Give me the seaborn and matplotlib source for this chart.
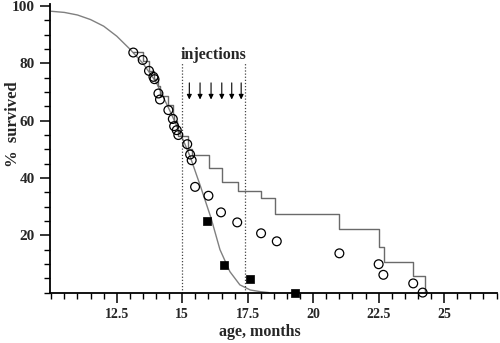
import matplotlib
matplotlib.use("Agg")
import matplotlib.pyplot as plt
import seaborn as sns
from matplotlib.ticker import MultipleLocator

# fitted survival curve
curve_x = [10.0, 10.5, 11.0, 11.5, 12.0, 12.5, 13.0, 13.5, 14.0, 14.5, 15.0, 15.3,
           15.7, 16.1, 16.44, 16.82, 17.2, 17.6, 18.0, 18.3]
curve_y = [98.2, 97.8, 96.9, 95.3, 93.0, 89.5, 85.0, 80.0, 73.5, 64.0, 54.0, 47.5,
           37.0, 26.0, 15.0, 7.3, 2.7, 0.9, 0.3, 0.0]

# treated group, step survival
step_x = [13.13, 13.49, 13.73, 13.94, 14.09, 14.15, 14.47, 14.64, 14.69, 14.79, 14.85,
          15.23, 15.36, 16.03, 16.51, 17.14, 18.01, 18.55, 21.00, 22.52, 22.70, 23.82, 24.27]
step_y = [84.0, 81.0, 77.5, 74.5, 72.0, 68.5, 65.5, 62.5, 60.0, 57.5, 54.6,
          50.0, 48.0, 43.4, 38.5, 35.5, 32.9, 27.6, 22.1, 16.0, 10.8, 5.8, 0.0]

# open circles
circle_x = [13.13, 13.49, 13.73, 13.90, 13.94, 14.09, 14.15, 14.47, 14.64, 14.69, 14.79,
            14.85, 15.19, 15.30, 15.36, 15.49, 16.00, 16.48, 17.10, 18.01, 18.61, 21.00,
            22.50, 22.68, 23.82, 24.18]
circle_y = [83.8, 81.2, 77.4, 75.3, 74.5, 69.5, 67.4, 63.7, 60.6, 58.1, 56.7,
            55.0, 51.8, 48.2, 46.2, 36.9, 33.8, 28.0, 24.5, 20.7, 17.9, 13.7,
            9.9, 6.2, 3.2, 0.0]

# filled squares
square_x = [15.94, 16.60, 17.59, 19.29]
square_y = [24.9, 9.5, 4.8, 0.0]

# injection window and arrows
inj_bounds = [15.0, 17.4]
arrow_x = [15.27, 15.68, 16.10, 16.51, 16.89, 17.25]

xtick_vals = [12.5, 15, 17.5, 20, 22.5, 25]
xtick_labels = ["12.5", "15", "17.5", "20", "22.5", "25"]
ytick_vals = [20, 40, 60, 80, 100]

sns.set_style("ticks")
plt.rcParams["font.family"] = ["Liberation Serif", "DejaVu Serif"]
plt.rcParams["font.weight"] = "bold"

fig = plt.figure(figsize=(5, 3.43), dpi=100)
ax = fig.add_axes([0.1, 0.147, 0.893, 0.841])

sns.lineplot(x=curve_x, y=curve_y, ax=ax, color="#808080", lw=1.0, sort=False)
sns.lineplot(x=step_x, y=step_y, ax=ax, color="#6a6a6a", lw=1.0, sort=False,
             drawstyle="steps-post")

ax.vlines(inj_bounds, 0, 80.5, colors="#444444", linestyles=(0, (1, 1.5)), lw=0.9)
for x in arrow_x:
    ax.annotate("", xy=(x, 67.4), xytext=(x, 73.2),
                arrowprops=dict(arrowstyle="-|>", color="black", lw=0.8,
                                mutation_scale=7, shrinkA=0, shrinkB=0))
ax.text(sum(inj_bounds) / 2, 82.9, "injections", ha="center", va="center",
        fontsize=11.5, fontweight="bold")

sns.scatterplot(x=circle_x, y=circle_y, ax=ax, marker="o", s=40,
                facecolor="none", edgecolor="black", linewidth=0.9, clip_on=False, zorder=4)
sns.scatterplot(x=square_x, y=square_y, ax=ax, marker="s", s=40,
                color="black", edgecolor="black", clip_on=False, zorder=4)

ax.set_xlim(9.95, 27.0)
ax.set_ylim(0, 100.7)
ax.set_xticks(xtick_vals)
ax.set_xticklabels(xtick_labels)
ax.set_yticks(ytick_vals)
ax.xaxis.set_minor_locator(MultipleLocator(0.5))
ax.yaxis.set_minor_locator(MultipleLocator(5))

ax.tick_params(axis="both", which="major", length=7, width=1.1, color="black", direction="out")
ax.tick_params(axis="both", which="minor", length=4, width=1.0, color="black", direction="out")
ax.tick_params(axis="x", which="major", labelsize=10, pad=4)
ax.tick_params(axis="y", which="major", labelsize=11, pad=4)

sns.despine(ax=ax)
for side in ["left", "bottom"]:
    ax.spines[side].set_linewidth(1.3)
    ax.spines[side].set_color("black")

ax.set_xlabel("age, months", fontsize=11.5, fontweight="bold")
ax.set_ylabel("%  survived", fontsize=12, fontweight="bold")
ax.xaxis.set_label_coords(0.47, -0.11)
ax.yaxis.set_label_coords(-0.066, 0.585)

fig.savefig("out.png", dpi=100)
